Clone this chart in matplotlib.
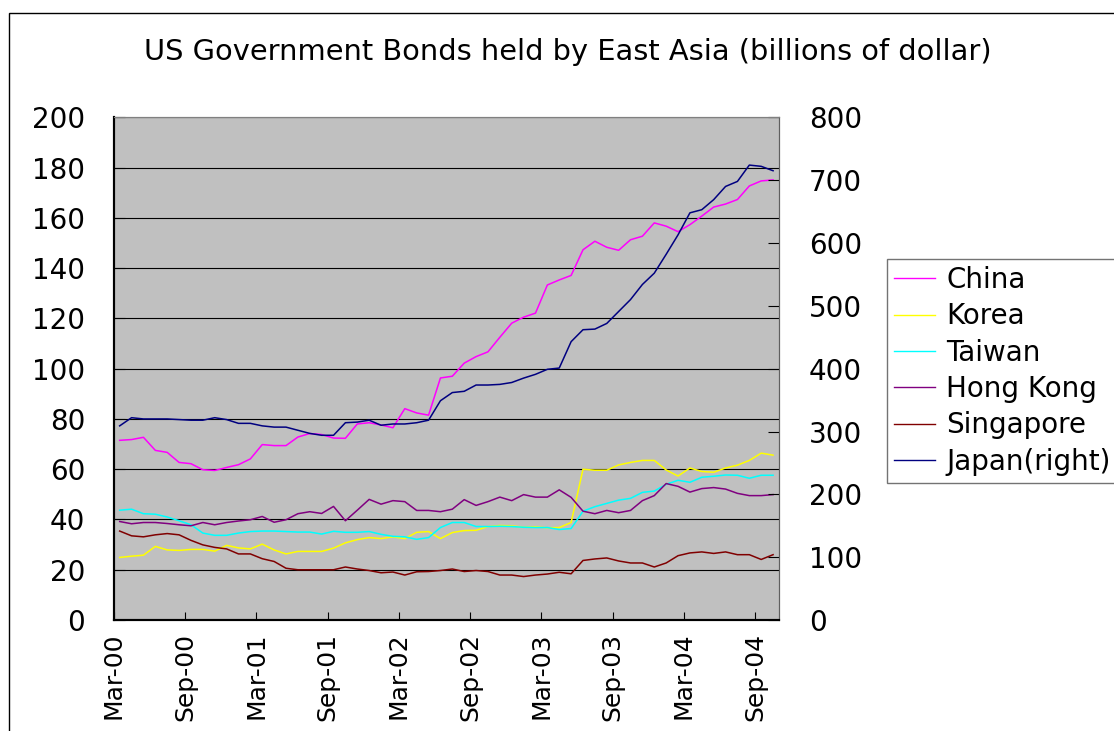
import numpy as np
import pandas as pd
import matplotlib
matplotlib.use('Agg')
import matplotlib.pyplot as plt
from matplotlib.patches import Rectangle

# monthly holdings, Mar-00 .. Oct-04 (billions of dollars)
months = pd.date_range('2000-03-01', periods=56, freq='MS').strftime('%b-%y').tolist()

china = [71.5, 71.8, 72.7, 67.5, 66.7, 62.7, 62.2, 59.8, 59.5, 60.7, 61.8, 64.1, 69.8, 69.4,
         69.4, 72.8, 74.2, 73.8, 72.4, 72.3, 78.0, 78.5, 77.6, 76.5, 84.1, 82.4, 81.5, 96.3,
         97.0, 102.2, 104.8, 106.7, 112.5, 118.1, 120.5, 122.1, 133.3, 135.3, 137.1, 147.3, 150.7, 148.3,
         147.1, 151.3, 152.7, 158.0, 156.7, 154.5, 157.3, 160.7, 164.3, 165.5, 167.3, 172.7, 174.7, 175.1]
korea = [24.9, 25.4, 25.8, 29.3, 27.9, 27.7, 28.1, 28.1, 27.4, 29.7, 28.7, 28.3, 30.2, 27.9,
         26.3, 27.3, 27.3, 27.3, 28.6, 30.7, 32.0, 32.8, 32.4, 33.1, 32.4, 34.9, 35.2, 32.4,
         34.8, 35.6, 35.7, 37.2, 37.6, 37.5, 36.9, 37.1, 36.7, 36.8, 38.8, 60.0, 59.6, 59.6,
         61.7, 62.7, 63.5, 63.5, 59.7, 57.3, 60.5, 59.1, 58.8, 60.5, 61.6, 63.5, 66.4, 65.6]
taiwan = [43.7, 44.1, 42.3, 42.1, 41.0, 39.5, 37.9, 34.6, 33.7, 33.7, 34.6, 35.2, 35.4, 35.4,
          35.2, 35.0, 35.0, 34.2, 35.3, 34.9, 34.9, 35.2, 34.1, 33.3, 33.1, 32.1, 32.8, 36.8,
          38.8, 38.8, 37.2, 37.2, 37.3, 37.2, 36.9, 36.8, 36.8, 36.0, 36.4, 43.3, 45.1, 46.4,
          47.7, 48.4, 50.8, 51.3, 54.0, 55.6, 54.8, 56.8, 57.2, 57.7, 57.6, 56.4, 57.6, 57.6]
hongkong = [39.2, 38.3, 38.8, 38.8, 38.4, 37.9, 37.5, 38.8, 37.9, 38.8, 39.4, 39.9, 41.2, 38.9,
            39.9, 42.3, 43.1, 42.4, 45.2, 39.5, 43.7, 48.0, 46.1, 47.5, 47.1, 43.6, 43.6, 43.1,
            44.1, 47.9, 45.6, 47.1, 48.9, 47.5, 49.9, 48.9, 48.9, 51.8, 48.8, 43.3, 42.3, 43.6,
            42.7, 43.6, 47.5, 49.5, 54.3, 53.2, 50.9, 52.3, 52.7, 52.1, 50.4, 49.5, 49.5, 49.9]
singapore = [35.4, 33.5, 33.1, 33.9, 34.4, 33.9, 31.7, 29.9, 28.9, 28.3, 26.3, 26.3, 24.4, 23.3,
             20.6, 20.0, 20.0, 20.0, 20.0, 21.1, 20.3, 19.7, 18.8, 19.1, 17.9, 19.2, 19.3, 19.7,
             20.3, 19.3, 19.7, 19.3, 17.9, 17.9, 17.3, 17.9, 18.3, 19.0, 18.4, 23.7, 24.3, 24.7,
             23.5, 22.7, 22.7, 21.1, 22.7, 25.6, 26.7, 27.1, 26.5, 27.1, 26.0, 26.0, 24.1, 26.0]
# Japan is on the right axis
japan = [309, 322, 320, 320, 320, 319, 318, 318, 322, 319, 313, 313, 309, 307,
         307, 302, 297, 294, 294, 314, 315, 318, 310, 312, 312, 314, 318, 349,
         362, 364, 374, 374, 375, 378, 385, 391, 399, 401, 443, 462, 463, 472,
         491, 510, 534, 552, 582, 613, 648, 653, 669, 690, 698, 724, 722, 715]

left_series = [('China', china, '#FF00FF'),
               ('Korea', korea, '#FFFF00'),
               ('Taiwan', taiwan, '#00FFFF'),
               ('Hong Kong', hongkong, '#800080'),
               ('Singapore', singapore, '#800000')]

plt.rcParams['font.family'] = 'DejaVu Sans'

fig = plt.figure(figsize=(11.14, 7.31), dpi=100)
ax = fig.add_axes([0.1021, 0.1518, 0.5972, 0.6877])
ax2 = ax.twinx()

x = np.arange(len(months))
lines = []
for name, vals, col in left_series:
    l, = ax.plot(x, vals, '-', color=col, lw=1.1, label=name)
    lines.append(l)
l, = ax2.plot(x, japan, '-', color='#000080', lw=1.1, label='Japan(right)')
lines.append(l)

ax.set_facecolor('#C0C0C0')
ax.set_xlim(-0.5, len(months) - 0.5)
ax.set_ylim(0, 200)
ax2.set_ylim(0, 800)
ax.set_yticks(np.arange(0, 201, 20))
ax2.set_yticks(np.arange(0, 801, 100))
ax.yaxis.grid(True, color='black', lw=0.8)
ax.set_axisbelow(True)

# category ticks every six months, on category boundaries
xt = np.arange(0, len(months), 6) - 0.5
ax.set_xticks(xt)
ax.set_xticklabels([months[i] for i in range(0, len(months), 6)], rotation=90, fontsize=18)
ax.tick_params(axis='x', direction='in', length=6, pad=9)
ax.tick_params(axis='y', direction='in', length=8, pad=20.5, labelsize=20)
ax2.tick_params(axis='y', direction='in', length=8, pad=21.5, labelsize=20)

for a in (ax, ax2):
    a.spines['left'].set_color('black')
    a.spines['left'].set_linewidth(1.5)
    a.spines['bottom'].set_color('black')
    a.spines['bottom'].set_linewidth(1.5)
    a.spines['top'].set_color('#808080')
    a.spines['right'].set_color('#606060')

fig.text(0.5094, 1 - 52 / 731, 'US Government Bonds held by East Asia (billions of dollar)',
         ha='center', va='center', fontsize=20.8)

leg = fig.legend(handles=lines, labels=[h.get_label() for h in lines],
                 loc='upper left', bbox_to_anchor=(886.7 / 1114, 1 - 259 / 731 - 0.01, 0.3, 0.01),
                 mode='expand', fontsize=20, frameon=True, fancybox=False,
                 handlelength=1.5, handletextpad=0.4, borderpad=0.25, labelspacing=0.3,
                 borderaxespad=0)
leg.get_frame().set_edgecolor('#505050')
leg.get_frame().set_linewidth(1.0)
for h in leg.legend_handles:
    h.set_linewidth(1.0)

# outer chart border
fig.patches.append(Rectangle((8.5 / 1114, -0.2), 1.5, 1 - 13 / 731 + 0.2, transform=fig.transFigure,
                             fill=False, edgecolor='black', lw=1.0))

fig.savefig('out.png', dpi=100)
